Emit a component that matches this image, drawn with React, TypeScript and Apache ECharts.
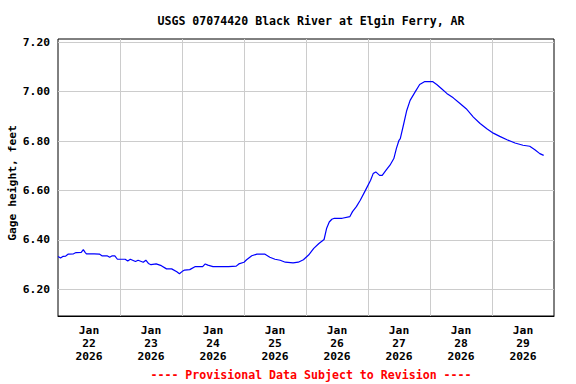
import React, { useEffect, useRef } from "react";
import * as echarts from "echarts";

const TITLE = "USGS 07074420 Black River at Elgin Ferry, AR";
const FOOTER = "---- Provisional Data Subject to Revision ----";
const Y_NAME = "Gage height, feet";

const dayMonths = ["Jan", "Jan", "Jan", "Jan", "Jan", "Jan", "Jan", "Jan"];
const dayNumbers = ["22", "23", "24", "25", "26", "27", "28", "29"];
const dayYears = ["2026", "2026", "2026", "2026", "2026", "2026", "2026", "2026"];

// hours since Jan 22 00:00
const hours = [
  0, 1, 2, 3, 4, 6, 7, 9, 9.8, 10.5, 11, 14, 16, 17, 19, 20, 21, 22, 23, 26,
  27, 28, 30, 31, 33, 34, 35, 36, 38, 40, 42, 44, 46, 47, 48, 49, 51, 53, 56, 57,
  58, 60, 63, 66, 69, 70, 72, 73, 75, 77, 80, 82, 84, 86, 88, 91, 93, 95, 97, 99,
  101, 103, 104, 105, 106, 107, 110, 113, 114, 115.5, 117, 119, 121, 122, 123, 124.5, 125.5, 127, 128.5, 130,
  131, 132, 132.5, 133.7, 135, 136.3, 138.2, 140, 142, 145, 146.6, 148.6, 150.5, 153, 155.5, 158, 160.8, 163.4, 166, 168.5,
  171, 173.8, 176.9, 180, 182.6, 184.6, 186.5, 188,
];
const gageHeight = [
  6.332, 6.326, 6.333, 6.334, 6.342, 6.343, 6.348, 6.349, 6.36, 6.349, 6.343, 6.343, 6.342, 6.335, 6.335, 6.329, 6.335, 6.335, 6.321, 6.321,
  6.314, 6.321, 6.312, 6.317, 6.309, 6.317, 6.304, 6.299, 6.302, 6.295, 6.282, 6.282, 6.27, 6.262, 6.271, 6.277, 6.279, 6.291, 6.291, 6.302,
  6.297, 6.291, 6.291, 6.291, 6.293, 6.302, 6.309, 6.319, 6.335, 6.342, 6.342, 6.329, 6.321, 6.317, 6.309, 6.306, 6.309, 6.319, 6.338, 6.365,
  6.385, 6.401, 6.447, 6.472, 6.483, 6.487, 6.487, 6.494, 6.514, 6.534, 6.56, 6.6, 6.641, 6.668, 6.675, 6.661, 6.661, 6.682, 6.702, 6.729,
  6.77, 6.803, 6.81, 6.864, 6.924, 6.965, 6.998, 7.029, 7.041, 7.041, 7.029, 7.011, 6.993, 6.975, 6.953, 6.931, 6.897, 6.871, 6.85, 6.832,
  6.819, 6.805, 6.792, 6.783, 6.779, 6.765, 6.749, 6.742,
];

const FONT = "'DejaVu Sans Mono', 'Liberation Mono', monospace";

export default function App() {
  const ref = useRef<HTMLDivElement>(null);
  useEffect(() => {
    if (!ref.current) return;
    const chart = echarts.init(ref.current, null, { renderer: "svg" });
    const dayLabels = dayMonths.map((m, i) => `${m}\n${dayNumbers[i]}\n${dayYears[i]}`);
    const data = hours.map((h, i) => [h, gageHeight[i]]);
    chart.setOption({
      animation: false,
      backgroundColor: "#ffffff",
      title: [
        {
          text: TITLE,
          left: 306,
          top: 10,
          textAlign: "center",
          textStyle: { fontFamily: FONT, fontSize: 11.6, fontWeight: "bold", color: "#000" },
        },
        {
          text: FOOTER,
          left: 306,
          top: 364,
          textAlign: "center",
          textStyle: { fontFamily: FONT, fontSize: 11.6, fontWeight: "bold", color: "#ff0000" },
        },
      ],
      graphic: [
        {
          type: "text",
          x: 12,
          y: 183,
          rotation: Math.PI / 2,
          style: {
            text: Y_NAME,
            fontFamily: FONT,
            fontSize: 11.3,
            fontWeight: "bold",
            fill: "#000",
            textAlign: "center",
            textVerticalAlign: "middle",
          },
        },
      ],
      grid: [
        { left: 58, top: 39, width: 496, height: 277, show: true, borderColor: "#000", borderWidth: 1, backgroundColor: "transparent" },
        { left: 58, top: 42.3, width: 496, height: 247 },
      ],
      xAxis: [
        {
          type: "category",
          gridIndex: 0,
          data: dayLabels,
          boundaryGap: true,
          axisLine: { show: true, lineStyle: { color: "#000" } },
          axisTick: { show: false },
          axisLabel: {
            fontFamily: FONT,
            fontSize: 11.3,
            fontWeight: "bold",
            color: "#000",
            lineHeight: 13,
            margin: 8,
          },
          splitLine: { show: true, showMinLine: false, showMaxLine: false, lineStyle: { color: "#cccccc", width: 1 } },
        },
        { type: "value", gridIndex: 0, min: 0, max: 192, show: false },
        { type: "value", gridIndex: 1, min: 0, max: 1, show: false },
      ],
      yAxis: [
        { type: "value", gridIndex: 0, min: 6.091, max: 7.2135, show: false },
        {
          type: "value",
          gridIndex: 1,
          min: 6.2,
          max: 7.2,
          interval: 0.2,
          axisLine: { show: false },
          axisTick: { show: false },
          axisLabel: {
            fontFamily: FONT,
            fontSize: 11.3,
            fontWeight: "bold",
            color: "#000",
            margin: 8,
            formatter: (v: number) => v.toFixed(2),
          },
          splitLine: { show: true, lineStyle: { color: "#cccccc", width: 1 } },
        },
      ],
      series: [
        {
          type: "line",
          xAxisIndex: 1,
          yAxisIndex: 0,
          data,
          symbol: "none",
          lineStyle: { color: "#0000ff", width: 1.2 },
          z: 10,
        },
      ],
    });
    return () => chart.dispose();
  }, []);
  return <div ref={ref} style={{ position: "fixed", left: 0, top: 0, width: 576, height: 384 }} />;
}
